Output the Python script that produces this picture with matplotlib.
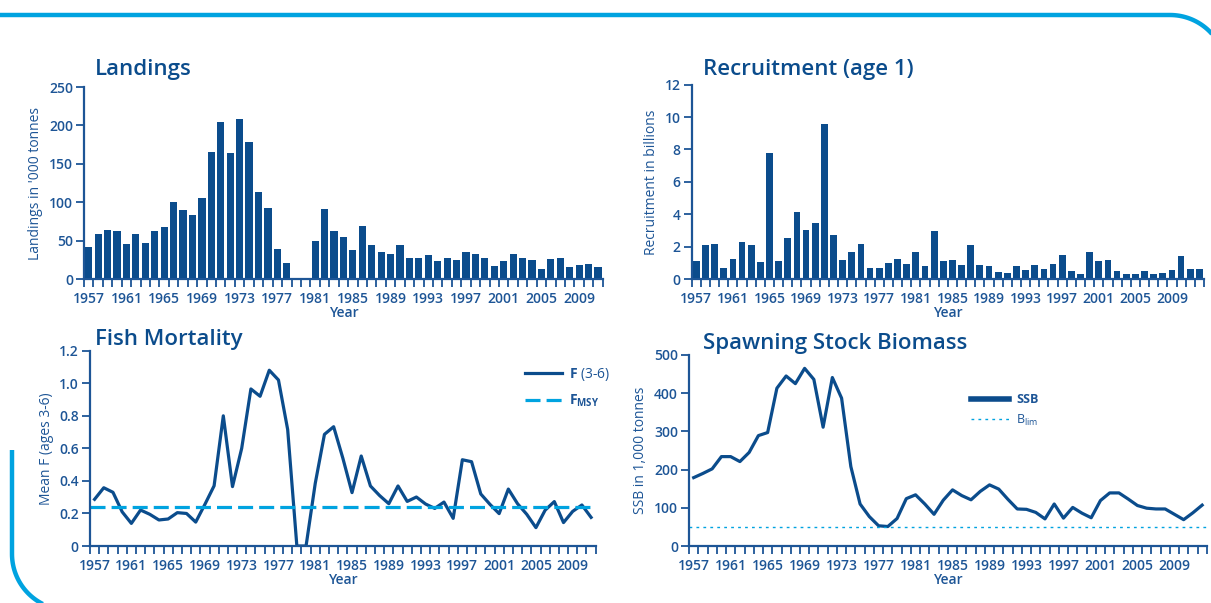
import numpy as np
import matplotlib.pyplot as plt
from matplotlib.lines import Line2D

plt.rcParams['font.family'] = ['Open Sans', 'DejaVu Sans']
plt.rcParams['mathtext.fontset'] = 'custom'
plt.rcParams['mathtext.rm'] = 'Open Sans'
plt.rcParams['mathtext.bf'] = 'Open Sans:bold'

DARK = '#0b4c8c'
TEXT = '#1d5596'
LIGHT = '#00a3e0'

# ---- data ----
land_years = list(range(1957, 2012))
landings = [42, 59, 64, 63, 45, 58, 47, 63, 68, 100,
            90, 83, 106, 165, 205, 164, 209, 178, 113, 92,
            39, 21, 0, 0, 50, 91, 63, 55, 38, 69,
            44, 35, 33, 44, 27, 28, 31, 23, 28, 25,
            35, 32, 28, 17, 23, 32, 27, 25, 13, 26,
            28, 15, 18, 19, 16]

rec_years = list(range(1957, 2013))
recruitment = [1.09, 2.07, 2.14, 0.66, 1.25, 2.3, 2.12, 1.03, 7.81, 1.09,
               2.55, 4.13, 3.04, 3.45, 9.57, 2.73, 1.15, 1.68, 2.14, 0.66,
               0.66, 0.97, 1.25, 0.9, 1.68, 0.78, 2.98, 1.13, 1.19, 0.88,
               2.12, 0.88, 0.82, 0.45, 0.39, 0.82, 0.58, 0.88, 0.64, 0.95,
               1.5, 0.51, 0.33, 1.68, 1.13, 1.19, 0.51, 0.33, 0.33, 0.51,
               0.33, 0.39, 0.58, 1.44, 0.64, 0.64]

f_years = list(range(1957, 2012))
mean_f = [0.287, 0.358, 0.33, 0.21, 0.139, 0.221, 0.195, 0.16, 0.166, 0.205,
          0.2, 0.147, 0.256, 0.37, 0.8, 0.365, 0.6, 0.965, 0.92, 1.08,
          1.02, 0.716, 0, 0, 0.385, 0.686, 0.733, 0.54, 0.328, 0.553,
          0.369, 0.31, 0.26, 0.369, 0.274, 0.301, 0.258, 0.231, 0.27, 0.17,
          0.53, 0.518, 0.32, 0.256, 0.199, 0.35, 0.26, 0.195, 0.113, 0.22,
          0.273, 0.144, 0.213, 0.252, 0.176]
f_msy = 0.24

ssb_years = list(range(1957, 2013))
ssb = [179, 190, 202, 234, 234, 221, 245, 289, 297, 413,
       445, 425, 465, 436, 311, 441, 387, 208, 110, 77,
       53, 51, 72, 124, 134, 110, 83, 120, 147, 132,
       121, 143, 160, 149, 122, 97, 96, 88, 71, 110,
       73, 101, 86, 74, 119, 139, 139, 123, 106, 99,
       97, 97, 83, 69, 87, 107]
b_lim = 50


def style_axis(ax, years, ymax, ystep, ylabel, ylabels=None):
    n = len(years)
    ax.set_xlim(-0.5, n - 0.5)
    ax.set_ylim(0, ymax)
    for s in ['top', 'right']:
        ax.spines[s].set_visible(False)
    for s in ['left', 'bottom']:
        ax.spines[s].set_color(TEXT)
        ax.spines[s].set_linewidth(1.6)
    idx = np.arange(0, n, 4)
    ax.set_xticks(idx)
    ax.set_xticklabels([str(years[i]) for i in idx])
    ax.set_xticks(np.arange(-0.5, n, 1), minor=True)
    ax.tick_params(axis='x', which='major', length=0, pad=9,
                   labelsize=10, labelcolor=TEXT)
    ax.tick_params(axis='x', which='minor', length=6, width=1.3,
                   color=TEXT, direction='out')
    yt = np.arange(0, ymax + ystep / 2, ystep)
    ax.set_yticks(yt)
    if ylabels is not None:
        ax.set_yticklabels(ylabels)
    ax.tick_params(axis='y', length=6, width=1.3, color=TEXT, pad=2,
                   labelsize=10, labelcolor=TEXT)
    for lab in ax.get_xticklabels() + ax.get_yticklabels():
        lab.set_fontweight('semibold')
    ax.set_ylabel(ylabel, color=TEXT, fontsize=10, labelpad=4)
    ax.set_xlabel('Year', color=TEXT, fontsize=10, fontweight='semibold',
                  labelpad=0)


fig = plt.figure(figsize=(12.11, 6.03), dpi=100)

# decorative frame
bg = fig.add_axes([0, 0, 1, 1])
bg.set_xlim(0, 1211)
bg.set_ylim(603, 0)
bg.axis('off')
R = 56
t = np.linspace(-np.pi / 2, 0, 40)
fx = np.concatenate([[0], 1170 + R * np.cos(t), [1170 + R]])
fy = np.concatenate([[15], 71 + R * np.sin(t), [700]])
bg.plot(fx, fy, color=LIGHT, lw=3.2, solid_capstyle='butt')
t2 = np.linspace(np.pi, np.pi / 2, 40)
gx = np.concatenate([[12], 68 + R * np.cos(t2)])
gy = np.concatenate([[450], 554 + R * np.sin(t2)])
bg.plot(gx, gy, color=LIGHT, lw=3.2, solid_capstyle='butt')

# Landings
ax1 = fig.add_axes([0.0694, 0.5373, 0.4283, 0.3184])
ax1.bar(np.arange(len(land_years)), landings, width=0.76, color=DARK)
style_axis(ax1, land_years, 250, 50, "Landings in '000 tonnes")

# Recruitment
ax2 = fig.add_axes([0.5712, 0.5373, 0.4230, 0.3222])
ax2.bar(np.arange(len(rec_years)), recruitment, width=0.74, color=DARK)
style_axis(ax2, rec_years, 12, 2, 'Recruitment in billions')

# Fishing mortality
ax3 = fig.add_axes([0.0743, 0.0945, 0.4176, 0.3239])
ax3.plot(np.arange(len(f_years)), mean_f, color=DARK, lw=2.3,
         label=r'$\mathbf{F}$ (3-6)')
ax3.axhline(f_msy, color=LIGHT, lw=2.3, dashes=(4.7, 1.9),
            label=r'$\mathbf{F}_{\mathbf{MSY}}$')
style_axis(ax3, f_years, 1.2, 0.2, 'Mean F (ages 3-6)',
           ['0', '0.2', '0.4', '0.6', '0.8', '1.0', '1.2'])
ax3.legend(loc='upper left', bbox_to_anchor=(0.86, 0.92), frameon=False,
           fontsize=10, labelcolor=TEXT, handlelength=2.7,
           handletextpad=0.5, labelspacing=0.7, borderpad=0,
           borderaxespad=0)

# SSB
ax4 = fig.add_axes([0.5690, 0.0945, 0.4275, 0.3168])
ax4.plot(np.arange(len(ssb_years)), ssb, color=DARK, lw=2.3)
ax4.axhline(b_lim, color=LIGHT, lw=1.0, dashes=(2, 3))
style_axis(ax4, ssb_years, 500, 100, 'SSB in 1,000 tonnes')
h = [Line2D([], [], color=DARK, lw=4), Line2D([], [], color=LIGHT, lw=1.0, dashes=(2, 3))]
leg = ax4.legend(h, [r'$\mathbf{SSB}$', r'$\mathrm{B}_{\mathrm{lim}}$'],
                 loc='upper left', bbox_to_anchor=(0.545, 0.80),
                 frameon=False, fontsize=9, labelcolor=TEXT,
                 handlelength=3.0, handletextpad=0.6, labelspacing=0.5,
                 borderpad=0, borderaxespad=0)

# panel titles
for x, y, s in [(95, 70, 'Landings'), (703, 70, 'Recruitment (age 1)'),
                (95, 340, 'Fish Mortality'), (703, 343, 'Spawning Stock Biomass')]:
    fig.text(x / 1211, 1 - y / 603, s, fontsize=16, color=DARK,
             fontweight='semibold', va='center', ha='left')

fig.savefig('out.png', dpi=100)
